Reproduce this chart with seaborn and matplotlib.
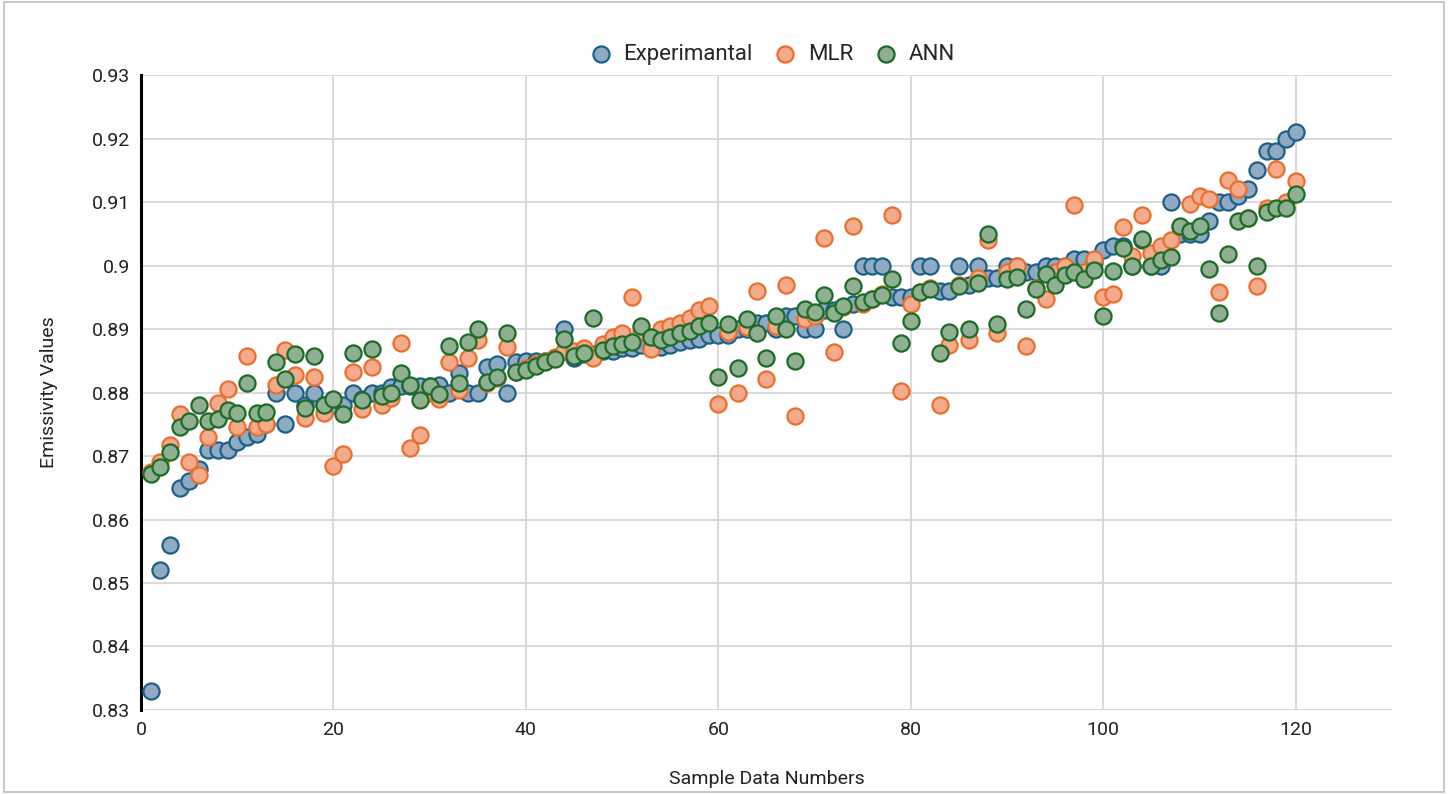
import numpy as np
import pandas as pd
import matplotlib
matplotlib.use("Agg")
import matplotlib.pyplot as plt
import seaborn as sns
from matplotlib.patches import Rectangle

sample_numbers = list(range(1, 121))

experimental = [
    0.833, 0.852, 0.856, 0.865, 0.866, 0.868, 0.871, 0.871, 0.871, 0.8722,
    0.873, 0.8735, 0.875, 0.880, 0.875, 0.880, 0.878, 0.880, 0.878, 0.878,
    0.878, 0.880, 0.879, 0.880, 0.880, 0.8808, 0.881, 0.881, 0.881, 0.881,
    0.8812, 0.880, 0.883, 0.880, 0.880, 0.884, 0.8845, 0.880, 0.8848, 0.885,
    0.885, 0.885, 0.8855, 0.890, 0.8855, 0.886, 0.886, 0.8865, 0.8865, 0.887,
    0.887, 0.8875, 0.887, 0.8872, 0.8875, 0.888, 0.8883, 0.8885, 0.889, 0.889,
    0.889, 0.890, 0.890, 0.891, 0.891, 0.890, 0.892, 0.892, 0.890, 0.890,
    0.893, 0.893, 0.890, 0.894, 0.900, 0.900, 0.900, 0.895, 0.895, 0.895,
    0.900, 0.900, 0.896, 0.896, 0.900, 0.897, 0.900, 0.898, 0.898, 0.900,
    0.900, 0.899, 0.899, 0.900, 0.900, 0.900, 0.901, 0.901, 0.9005, 0.9025,
    0.903, 0.903, 0.900, 0.904, 0.900, 0.900, 0.910, 0.905, 0.905, 0.905,
    0.907, 0.910, 0.910, 0.911, 0.912, 0.915, 0.918, 0.918, 0.920, 0.921,
]

mlr = [
    0.8675, 0.869, 0.8717, 0.8766, 0.869, 0.867, 0.873, 0.8784, 0.8805, 0.8746,
    0.8858, 0.8746, 0.875, 0.8812, 0.8867, 0.8828, 0.876, 0.8825, 0.8768, 0.8684,
    0.8703, 0.8832, 0.8774, 0.884, 0.878, 0.8791, 0.8878, 0.8713, 0.8733, 0.880,
    0.879, 0.8848, 0.8804, 0.8854, 0.8883, 0.8815, 0.8823, 0.8872, 0.8832, 0.8838,
    0.8845, 0.885, 0.8856, 0.8865, 0.8865, 0.887, 0.8855, 0.8877, 0.8887, 0.8893,
    0.895, 0.8895, 0.8868, 0.890, 0.8905, 0.891, 0.8917, 0.893, 0.8937, 0.8782,
    0.8895, 0.880, 0.8903, 0.896, 0.8822, 0.8905, 0.897, 0.8763, 0.8915, 0.892,
    0.9043, 0.8864, 0.8935, 0.9063, 0.894, 0.8948, 0.8955, 0.908, 0.8802, 0.894,
    0.8958, 0.8965, 0.878, 0.8875, 0.897, 0.8883, 0.898, 0.904, 0.8893, 0.899,
    0.900, 0.8873, 0.8965, 0.8947, 0.899, 0.900, 0.9095, 0.899, 0.901, 0.895,
    0.8955, 0.906, 0.9015, 0.908, 0.902, 0.903, 0.904, 0.906, 0.9097, 0.911,
    0.9105, 0.8958, 0.9135, 0.912, 0.9075, 0.8968, 0.909, 0.9152, 0.910, 0.9133,
]

ann = [
    0.8672, 0.8683, 0.8707, 0.8745, 0.8755, 0.878, 0.8755, 0.8758, 0.8773, 0.8768,
    0.8815, 0.8767, 0.877, 0.8848, 0.8822, 0.886, 0.8775, 0.8858, 0.878, 0.879,
    0.8766, 0.8863, 0.8788, 0.8868, 0.8795, 0.880, 0.883, 0.8812, 0.8788, 0.881,
    0.8798, 0.8873, 0.8815, 0.888, 0.890, 0.8817, 0.8825, 0.8893, 0.8832, 0.8835,
    0.8842, 0.8848, 0.8852, 0.8885, 0.8857, 0.8862, 0.8918, 0.8867, 0.8873, 0.8877,
    0.888, 0.8905, 0.8888, 0.8883, 0.8888, 0.8893, 0.8897, 0.8905, 0.891, 0.8825,
    0.8908, 0.8838, 0.8915, 0.8893, 0.8855, 0.892, 0.890, 0.885, 0.8932, 0.8927,
    0.8953, 0.8925, 0.8937, 0.8968, 0.8942, 0.8948, 0.8953, 0.8978, 0.8878, 0.8912,
    0.8958, 0.8963, 0.8862, 0.8895, 0.8968, 0.890, 0.8972, 0.905, 0.8908, 0.8978,
    0.8982, 0.8932, 0.8963, 0.8987, 0.897, 0.8985, 0.899, 0.8978, 0.8993, 0.892,
    0.8992, 0.9028, 0.900, 0.9042, 0.900, 0.9008, 0.9013, 0.9063, 0.9055, 0.9062,
    0.8995, 0.8925, 0.9018, 0.907, 0.9075, 0.900, 0.9085, 0.909, 0.909, 0.9112,
]

series_names = ["Experimantal", "MLR", "ANN"]
x_ticks = [0, 20, 40, 60, 80, 100, 120]
y_ticks = [0.83, 0.84, 0.85, 0.86, 0.87, 0.88, 0.89, 0.9, 0.91, 0.92, 0.93]

df = pd.DataFrame({
    "sample": sample_numbers * 3,
    "value": experimental + mlr + ann,
    "series": np.repeat(series_names, len(sample_numbers)),
})

sns.set_theme(style="white")
plt.rcParams["font.family"] = ["Roboto", "DejaVu Sans"]

styles = {
    "Experimantal": ("#8FAAC3", "#1E5F88"),
    "MLR": ("#F5AA8C", "#E8702F"),
    "ANN": ("#8FB091", "#1C6B27"),
}

fig = plt.figure(figsize=(14.48, 7.94), dpi=100)
ax = fig.add_axes([0.0974, 0.1058, 0.8639, 0.7997])

for name in series_names:
    face, edge = styles[name]
    sns.scatterplot(
        data=df[df["series"] == name],
        x="sample",
        y="value",
        color=face,
        edgecolor=edge,
        linewidth=1.6,
        s=135,
        label=name,
        ax=ax,
        zorder=3,
    )

ax.set_xlim(0, 130)
ax.set_ylim(0.83, 0.93)
ax.set_xticks(x_ticks)
ax.set_yticks(y_ticks)
ax.set_yticklabels([f"{v:g}" for v in y_ticks])
ax.tick_params(axis="both", labelsize=14, colors="#222222", length=0, pad=8)

ax.grid(True, color="#D9D9D9", linewidth=1.4)
ax.set_axisbelow(True)
for side in ["top", "right", "bottom"]:
    ax.spines[side].set_visible(False)
ax.spines["left"].set_color("#000000")
ax.spines["left"].set_linewidth(2.2)

ax.set_xlabel("Sample Data Numbers", fontsize=14, color="#222222", labelpad=22)
ax.set_ylabel("Emissivity Values", fontsize=14, color="#222222", labelpad=24)

ax.legend(
    loc="center",
    bbox_to_anchor=(0.5, 1.032),
    ncol=3,
    frameon=False,
    fontsize=16,
    handletextpad=0.0,
    columnspacing=0.5,
    markerscale=1.0,
)

fig.patches.append(Rectangle((0.003, 0.003), 0.994, 0.994, transform=fig.transFigure,
                             fill=False, edgecolor="#BFBFBF", linewidth=1.2))

fig.savefig("out.png", dpi=100)
